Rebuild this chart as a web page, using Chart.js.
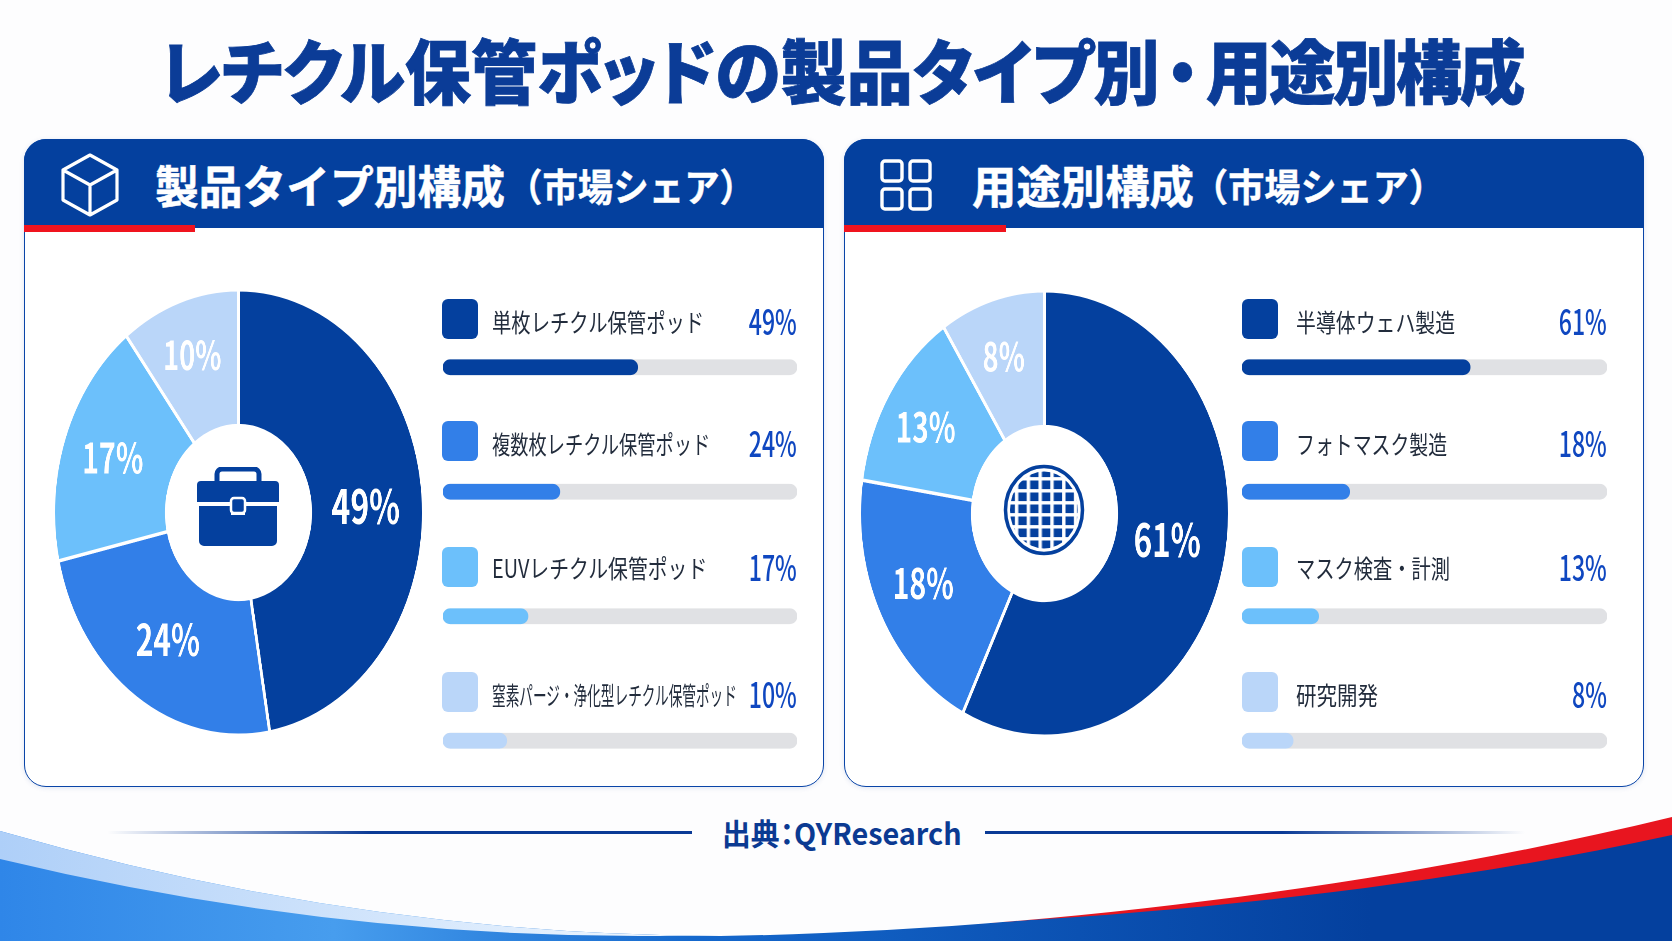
<!DOCTYPE html>
<html lang="ja">
<head>
<meta charset="utf-8">
<title>レチクル保管ポッドの製品タイプ別・用途別構成</title>
<script src="https://cdn.jsdelivr.net/npm/chart.js@4"></script>
<style>
    html, body { margin: 0; padding: 0; background: #fdfdfe; }
    #page { position: relative; width: 1672px; height: 941px; overflow: hidden; font-family: "Noto Sans CJK JP", sans-serif; }
    #page svg, #page canvas { position: absolute; }
    .panel { position: absolute; box-sizing: border-box; top: 139px; width: 800px; height: 648px; background: #fff; border: 1.5px solid #0a45a8; border-radius: 22px; box-shadow: 0 1px 5px rgba(10, 60, 150, 0.12); }
    .head { position: absolute; top: 139px; width: 800px; height: 89px; background: #04409e; border-radius: 22px 22px 0 0; }
    .red { position: absolute; top: 225px; height: 7px; background: #f0141e; }
    .swatch { position: absolute; width: 36px; height: 40px; border-radius: 6px; }
    .txt { position: absolute; white-space: nowrap; line-height: 1; }
    .palt { font-feature-settings: "palt"; }
</style>
</head>
<body>
<div id="page">
    <svg width="1672" height="941" viewBox="0 0 1672 941" style="left:0;top:0">
        <defs>
            <linearGradient id="base" x1="0" x2="1" y1="0" y2="0">
                <stop offset="0" stop-color="#2f86e8"/>
                <stop offset="0.2" stop-color="#479dee"/>
                <stop offset="0.42" stop-color="#1467cc"/>
                <stop offset="0.82" stop-color="#04409e"/>
                <stop offset="1" stop-color="#04409e"/>
            </linearGradient>
            <linearGradient id="band" x1="0" x2="1" y1="0" y2="0">
                <stop offset="0" stop-color="#aecff8"/>
                <stop offset="1" stop-color="#f3f9ff"/>
            </linearGradient>
            <linearGradient id="fadeL" x1="0" x2="1" y1="0" y2="0">
                <stop offset="0" stop-color="#0a3a96" stop-opacity="0"/>
                <stop offset="0.45" stop-color="#0a3a96"/>
            </linearGradient>
            <linearGradient id="fadeR" x1="0" x2="1" y1="0" y2="0">
                <stop offset="0.55" stop-color="#0a3a96"/>
                <stop offset="1" stop-color="#0a3a96" stop-opacity="0"/>
            </linearGradient>
        </defs>
        <rect x="0" y="790" width="1672" height="151" fill="url(#base)"/>
        <!-- red goes first, the white area covers its upper edge -->
        <path d="M887,927 C1100,920 1400,895 1672,835 V790 H887 Z" fill="#e8151f"/>
        <path d="M0,831 Q360,935 720,936 C1000,932 1350,895 1672,817 V0 H0 Z" fill="#fdfdfe"/>
        <path d="M0,831 Q360,935 720,936 L640,936 Q320,936 0,859 Z" fill="url(#band)"/>
        <rect x="107" y="831" width="585" height="3" fill="url(#fadeL)"/>
        <rect x="985" y="831" width="540" height="3" fill="url(#fadeR)"/>
    </svg>

    <div class="panel" style="left:24px"></div>
    <div class="panel" style="left:843.5px"></div>
    <div class="head" style="left:24px"></div>
    <div class="head" style="left:843.5px"></div>
    <div class="red" style="left:24px;width:171px"></div>
    <div class="red" style="left:843.5px;width:162px"></div>

    <!-- header icons -->
    <svg width="60" height="66" viewBox="0 0 60 66" style="left:60px;top:152px" fill="none" stroke="#fff" stroke-width="3.2" stroke-linejoin="round">
        <path d="M30,3 L57,18 V48 L30,63 L3,48 V18 Z M3,18 L30,33 L57,18 M30,33 V63"/>
    </svg>
    <svg width="54" height="54" viewBox="0 0 54 54" style="left:879px;top:158px" fill="none" stroke="#fff" stroke-width="3.4">
        <rect x="3" y="3" width="20" height="20" rx="3"/>
        <rect x="31" y="3" width="20" height="20" rx="3"/>
        <rect x="3" y="31" width="20" height="20" rx="3"/>
        <rect x="31" y="31" width="20" height="20" rx="3"/>
    </svg>

    <canvas id="typePie"></canvas>
    <canvas id="usePie"></canvas>
    <canvas id="typeBars"></canvas>
    <canvas id="useBars"></canvas>

    <!-- briefcase in the left hole -->
    <svg width="84" height="80" viewBox="0 0 84 80" style="left:196px;top:467px">
        <path d="M21,16 V7 a5,5 0 0 1 5,-5 H58 a5,5 0 0 1 5,5 V16" fill="none" stroke="#04409e" stroke-width="5"/>
        <path d="M5,14 H79 a4,4 0 0 1 4,4 V35 H48 V30 H36 V35 H1 V18 a4,4 0 0 1 4,-4 Z" fill="#04409e"/>
        <path d="M3,39 H35 V48 H49 V39 H81 V74 a5,5 0 0 1 -5,5 H8 a5,5 0 0 1 -5,-5 Z" fill="#04409e"/>
        <rect x="35" y="31" width="14" height="15" rx="3" fill="#04409e" stroke="#fff" stroke-width="2.5"/>
    </svg>
    <!-- wafer in the right hole -->
    <svg width="84" height="94" viewBox="0 0 84 94" style="left:1002px;top:463px">
        <defs>
            <pattern id="cells" x="3" y="4" width="11.8" height="12" patternUnits="userSpaceOnUse">
                <rect width="11.8" height="12" fill="#fff"/>
                <rect x="1.5" y="1.5" width="8.4" height="8.6" fill="#04409e"/>
            </pattern>
        </defs>
        <ellipse cx="42" cy="47" rx="38.5" ry="43.5" fill="#fff" stroke="#04409e" stroke-width="3.5"/>
        <ellipse cx="42" cy="47" rx="34" ry="38.5" fill="url(#cells)"/>
    </svg>
</div>

<script>
// Printed shares
const typeLabels = ['単枚レチクル保管ポッド', '複数枚レチクル保管ポッド', 'EUVレチクル保管ポッド', '窒素パージ・浄化型レチクル保管ポッド'];
const typeShares = [49, 24, 17, 10];
const useLabels = ['半導体ウェハ製造', 'フォトマスク製造', 'マスク検査・計測', '研究開発'];
const useShares = [61, 18, 13, 8];

// The picture does not draw its marks to the printed numbers, so these are read off the marks
const typeSlices = [47.3, 24.2, 18.1, 10.4];
const useSlices = [57.3, 20.1, 13.4, 9.2];
const typeBarLengths = [55, 33, 24, 18];
const useBarLengths = [62.5, 29.5, 21, 14];
const trackLengths = [100, 100, 100, 100];

// Slice label size and offset from the middle of the slice
const typeLabelSizes = [47, 44, 42, 40];
const typeLabelNudges = [[-1, 7], [1, -2], [-6, -2], [-6, -11]];
const useLabelSizes = [46, 42, 41, 40];
const useLabelNudges = [[-3, -9], [-9, -2], [-13, -3], [-5, -9]];

const sliceColors = ['#04409e', '#327fe8', '#6cc0fb', '#bad6f9'];
const TRACK_COLOR = '#e0e1e4';
const PIE_SIZE = 449;
const PIE_SQUEEZE = 0.83;  // the donuts are ellipses in the reference

const page = document.getElementById('page');

// Places a text by its vertical centre, and fits it to a width or a horizontal squeeze
function place(text, o) {
    const el = document.createElement('div');
    el.className = 'txt' + (o.palt ? ' palt' : '');
    if (o.html) el.innerHTML = o.html;
    else el.textContent = text;
    el.style.fontSize = o.size + 'px';
    el.style.fontWeight = o.weight || 400;
    el.style.color = o.color;
    el.style.top = (o.y - o.size / 2) + 'px';
    if (o.stroke) el.style.webkitTextStroke = o.stroke + 'px ' + o.color;
    page.appendChild(el);
    const sx = o.width ? o.width / el.offsetWidth : (o.squeeze || 1);
    if (o.right !== undefined) {
        el.style.right = (1672 - o.right) + 'px';
        el.style.transformOrigin = 'right center';
    } else {
        el.style.left = o.x + 'px';
        el.style.transformOrigin = 'left center';
    }
    el.style.transform = 'scaleX(' + sx + ')';
}

// Percent labels inside the slices
const sliceLabels = {
    id: 'sliceLabels',
    afterDatasetsDraw(chart) {
        const ctx = chart.ctx;
        const o = chart.options.plugins.sliceLabels;
        chart.getDatasetMeta(0).data.forEach((arc, i) => {
            const p = arc.getCenterPoint();
            ctx.save();
            ctx.fillStyle = '#fff';
            ctx.font = 'bold ' + o.sizes[i] + 'px "Noto Sans CJK JP"';
            ctx.textAlign = 'center';
            ctx.textBaseline = 'middle';
            ctx.translate(p.x + o.nudges[i][0], p.y + o.nudges[i][1]);
            ctx.scale(0.82, 1);
            ctx.fillText(o.shares[i] + '%', 0, 0);
            ctx.restore();
        });
    }
};

function createPie(id, slices, shares, sizes, nudges, cx, cy) {
    const canvas = document.getElementById(id);
    canvas.width = PIE_SIZE;
    canvas.height = PIE_SIZE;
    new Chart(canvas, {
        type: 'doughnut',
        data: {
            datasets: [{
                data: slices,
                backgroundColor: sliceColors,
                borderColor: '#fff',
                borderWidth: 3.5
            }]
        },
        options: {
            responsive: false,
            animation: false,
            devicePixelRatio: 2,
            cutout: '39%',
            plugins: {
                legend: { display: false },
                tooltip: { enabled: false },
                sliceLabels: { shares: shares, sizes: sizes, nudges: nudges }
            }
        },
        plugins: [sliceLabels]
    });
    canvas.style.left = (cx - PIE_SIZE / 2) + 'px';
    canvas.style.top = (cy - PIE_SIZE / 2) + 'px';
    canvas.style.transform = 'scaleX(' + PIE_SQUEEZE + ')';
}

function createBars(id, labels, lengths, x, width) {
    const canvas = document.getElementById(id);
    canvas.width = width;
    canvas.height = 498;
    new Chart(canvas, {
        type: 'bar',
        data: {
            labels: labels,
            datasets: [
                { data: lengths, backgroundColor: sliceColors, order: 1 },
                { data: trackLengths, backgroundColor: TRACK_COLOR, order: 2 }
            ]
        },
        options: {
            indexAxis: 'y',
            responsive: false,
            animation: false,
            devicePixelRatio: 2,
            datasets: { bar: { grouped: false, barThickness: 15, borderRadius: 8, borderSkipped: false } },
            scales: {
                x: { display: false, min: 0, max: 100 },
                y: { display: false }
            },
            plugins: { legend: { display: false }, tooltip: { enabled: false } }
        }
    });
    canvas.style.left = x + 'px';
    canvas.style.top = '305px';
}

// Legend rows above each bar
function createRows(labels, shares, widths, swatchX, textX, percentRight) {
    labels.forEach((label, i) => {
        const sw = document.createElement('div');
        sw.className = 'swatch';
        sw.style.left = swatchX + 'px';
        sw.style.top = (SWATCH_Y[i] - 20) + 'px';
        sw.style.background = sliceColors[i];
        page.appendChild(sw);
        place(label, { x: textX, y: TEXT_Y[i] + 2, size: 25, color: '#222c3c', width: widths[i] });
        place(shares[i] + '%', { right: percentRight, y: TEXT_Y[i], size: 35, weight: 500, color: '#0f47c0', squeeze: 0.66 });
    });
}

createPie('typePie', typeSlices, typeShares, typeLabelSizes, typeLabelNudges, 238.5, 512);
createPie('usePie', useSlices, useShares, useLabelSizes, useLabelNudges, 1044.5, 513);
createBars('typeBars', typeLabels, typeBarLengths, 442.5, 354);
createBars('useBars', useLabels, useBarLengths, 1242, 365);

const SWATCH_Y = [319, 441, 567, 692];
const TEXT_Y = [319, 441, 565, 692];
createRows(typeLabels, typeShares, [212, 218, 215, 245], 442, 492, 797);
createRows(useLabels, useShares, [159, 151, 154, 82], 1242, 1296, 1607);

place('レチクル保管ポッドの製品タイプ別・用途別構成', {
    html: 'レチクル保管ポッドの製品タイプ別<span style="margin:0 .1em">・</span><span style="letter-spacing:-.04em">用途別構成</span>',
    x: 160, y: 69, size: 70, weight: 900, color: '#0b3c97', width: 1363, palt: true, stroke: 0.8
});
place('製品タイプ別構成', { x: 155, y: 184, size: 45, weight: 700, color: '#fff', width: 350, stroke: 0.5 });
place('（市場シェア）', { x: 507, y: 185, size: 38, weight: 700, color: '#fff', width: 248, stroke: 0.4 });
place('用途別構成', { x: 972, y: 184, size: 45, weight: 700, color: '#fff', width: 222, stroke: 0.5 });
place('（市場シェア）', { x: 1192, y: 185, size: 38, weight: 700, color: '#fff', width: 253, stroke: 0.4 });
place('出典：QYResearch', { x: 722, y: 832, size: 30, weight: 700, color: '#0b3a92', width: 240, palt: true });
</script>
</body>
</html>
